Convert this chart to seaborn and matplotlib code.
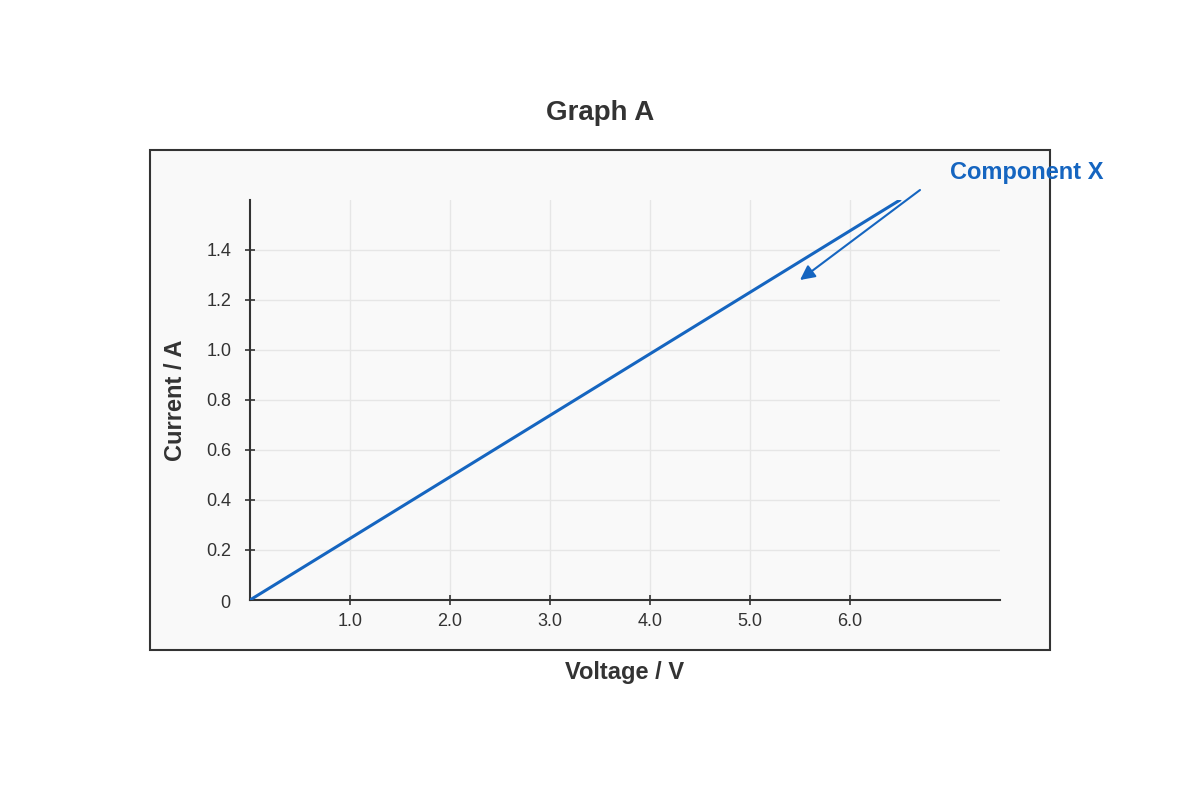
import matplotlib
matplotlib.use("Agg")
import matplotlib.pyplot as plt
import matplotlib.patches as patches
import seaborn as sns
import pandas as pd

# data
voltage = [0.0, 6.5]
current = [0.0, 1.6]
x_ticks = [1.0, 2.0, 3.0, 4.0, 5.0, 6.0]
x_tick_labels = ["1.0", "2.0", "3.0", "4.0", "5.0", "6.0"]
y_ticks = [0.2, 0.4, 0.6, 0.8, 1.0, 1.2, 1.4]
y_tick_labels = ["0.2", "0.4", "0.6", "0.8", "1.0", "1.2", "1.4"]

df = pd.DataFrame({"Voltage": voltage, "Current": current})

sns.set_theme(style="white")
plt.rcParams["font.family"] = ["Liberation Sans", "DejaVu Sans"]

blue = "#1565C0"
dark = "#333333"

fig = plt.figure(figsize=(12, 8), dpi=100)
fig.patch.set_facecolor("white")

# framed panel behind the axes
box = patches.Rectangle((150 / 1200, 150 / 800), 900 / 1200, 500 / 800,
                        transform=fig.transFigure, facecolor="#f9f9f9",
                        edgecolor=dark, linewidth=1.5, zorder=-1)
fig.add_artist(box)

ax = fig.add_axes([250 / 1200, 200 / 800, 750 / 1200, 400 / 800])
ax.patch.set_alpha(0)

sns.lineplot(data=df, x="Voltage", y="Current", ax=ax, color=blue,
             linewidth=2.2, zorder=3)

ax.set_xlim(0, 7.5)
ax.set_ylim(0, 1.6)
ax.set_xticks(x_ticks)
ax.set_xticklabels(x_tick_labels)
ax.set_yticks(y_ticks)
ax.set_yticklabels(y_tick_labels)

ax.grid(True, color="#e6e6e6", linewidth=1)
ax.set_axisbelow(True)

for side in ["top", "right"]:
    ax.spines[side].set_visible(False)
for side in ["left", "bottom"]:
    ax.spines[side].set_color(dark)
    ax.spines[side].set_linewidth(1.5)

ax.tick_params(axis="both", direction="inout", length=7, width=1.2,
               color=dark, labelcolor=dark, labelsize=13,
               bottom=True, left=True)
ax.tick_params(axis="y", pad=10)
ax.tick_params(axis="x", pad=6)

# origin label
ax.annotate("0", xy=(0, 0), xytext=(-25, -4), textcoords="offset pixels",
            ha="center", va="center", fontsize=13, color=dark,
            annotation_clip=False)

ax.set_xlabel("Voltage / V", fontsize=17, fontweight="bold", color=dark)
ax.set_ylabel("Current / A", fontsize=17, fontweight="bold", color=dark)
ax.xaxis.set_label_coords(0.5, -0.18)
ax.xaxis.label.set_va("center")
ax.yaxis.set_label_coords(-0.1, 0.5)
ax.yaxis.label.set_va("center")

fig.text(0.5, 0.859, "Graph A", ha="center", va="center",
         fontsize=20, fontweight="bold", color=dark)

# label and arrow for the line
ax.annotate("", xy=(5.5, 1.28), xytext=(6.7, 1.64),
            arrowprops=dict(arrowstyle="-|>", color=blue, lw=1.5,
                            mutation_scale=22, shrinkA=0, shrinkB=0),
            annotation_clip=False)
ax.text(7.0, 1.708, "Component X", ha="left", va="center", fontsize=17,
        fontweight="bold", color=blue, clip_on=False)

fig.savefig("out.png", dpi=100)
